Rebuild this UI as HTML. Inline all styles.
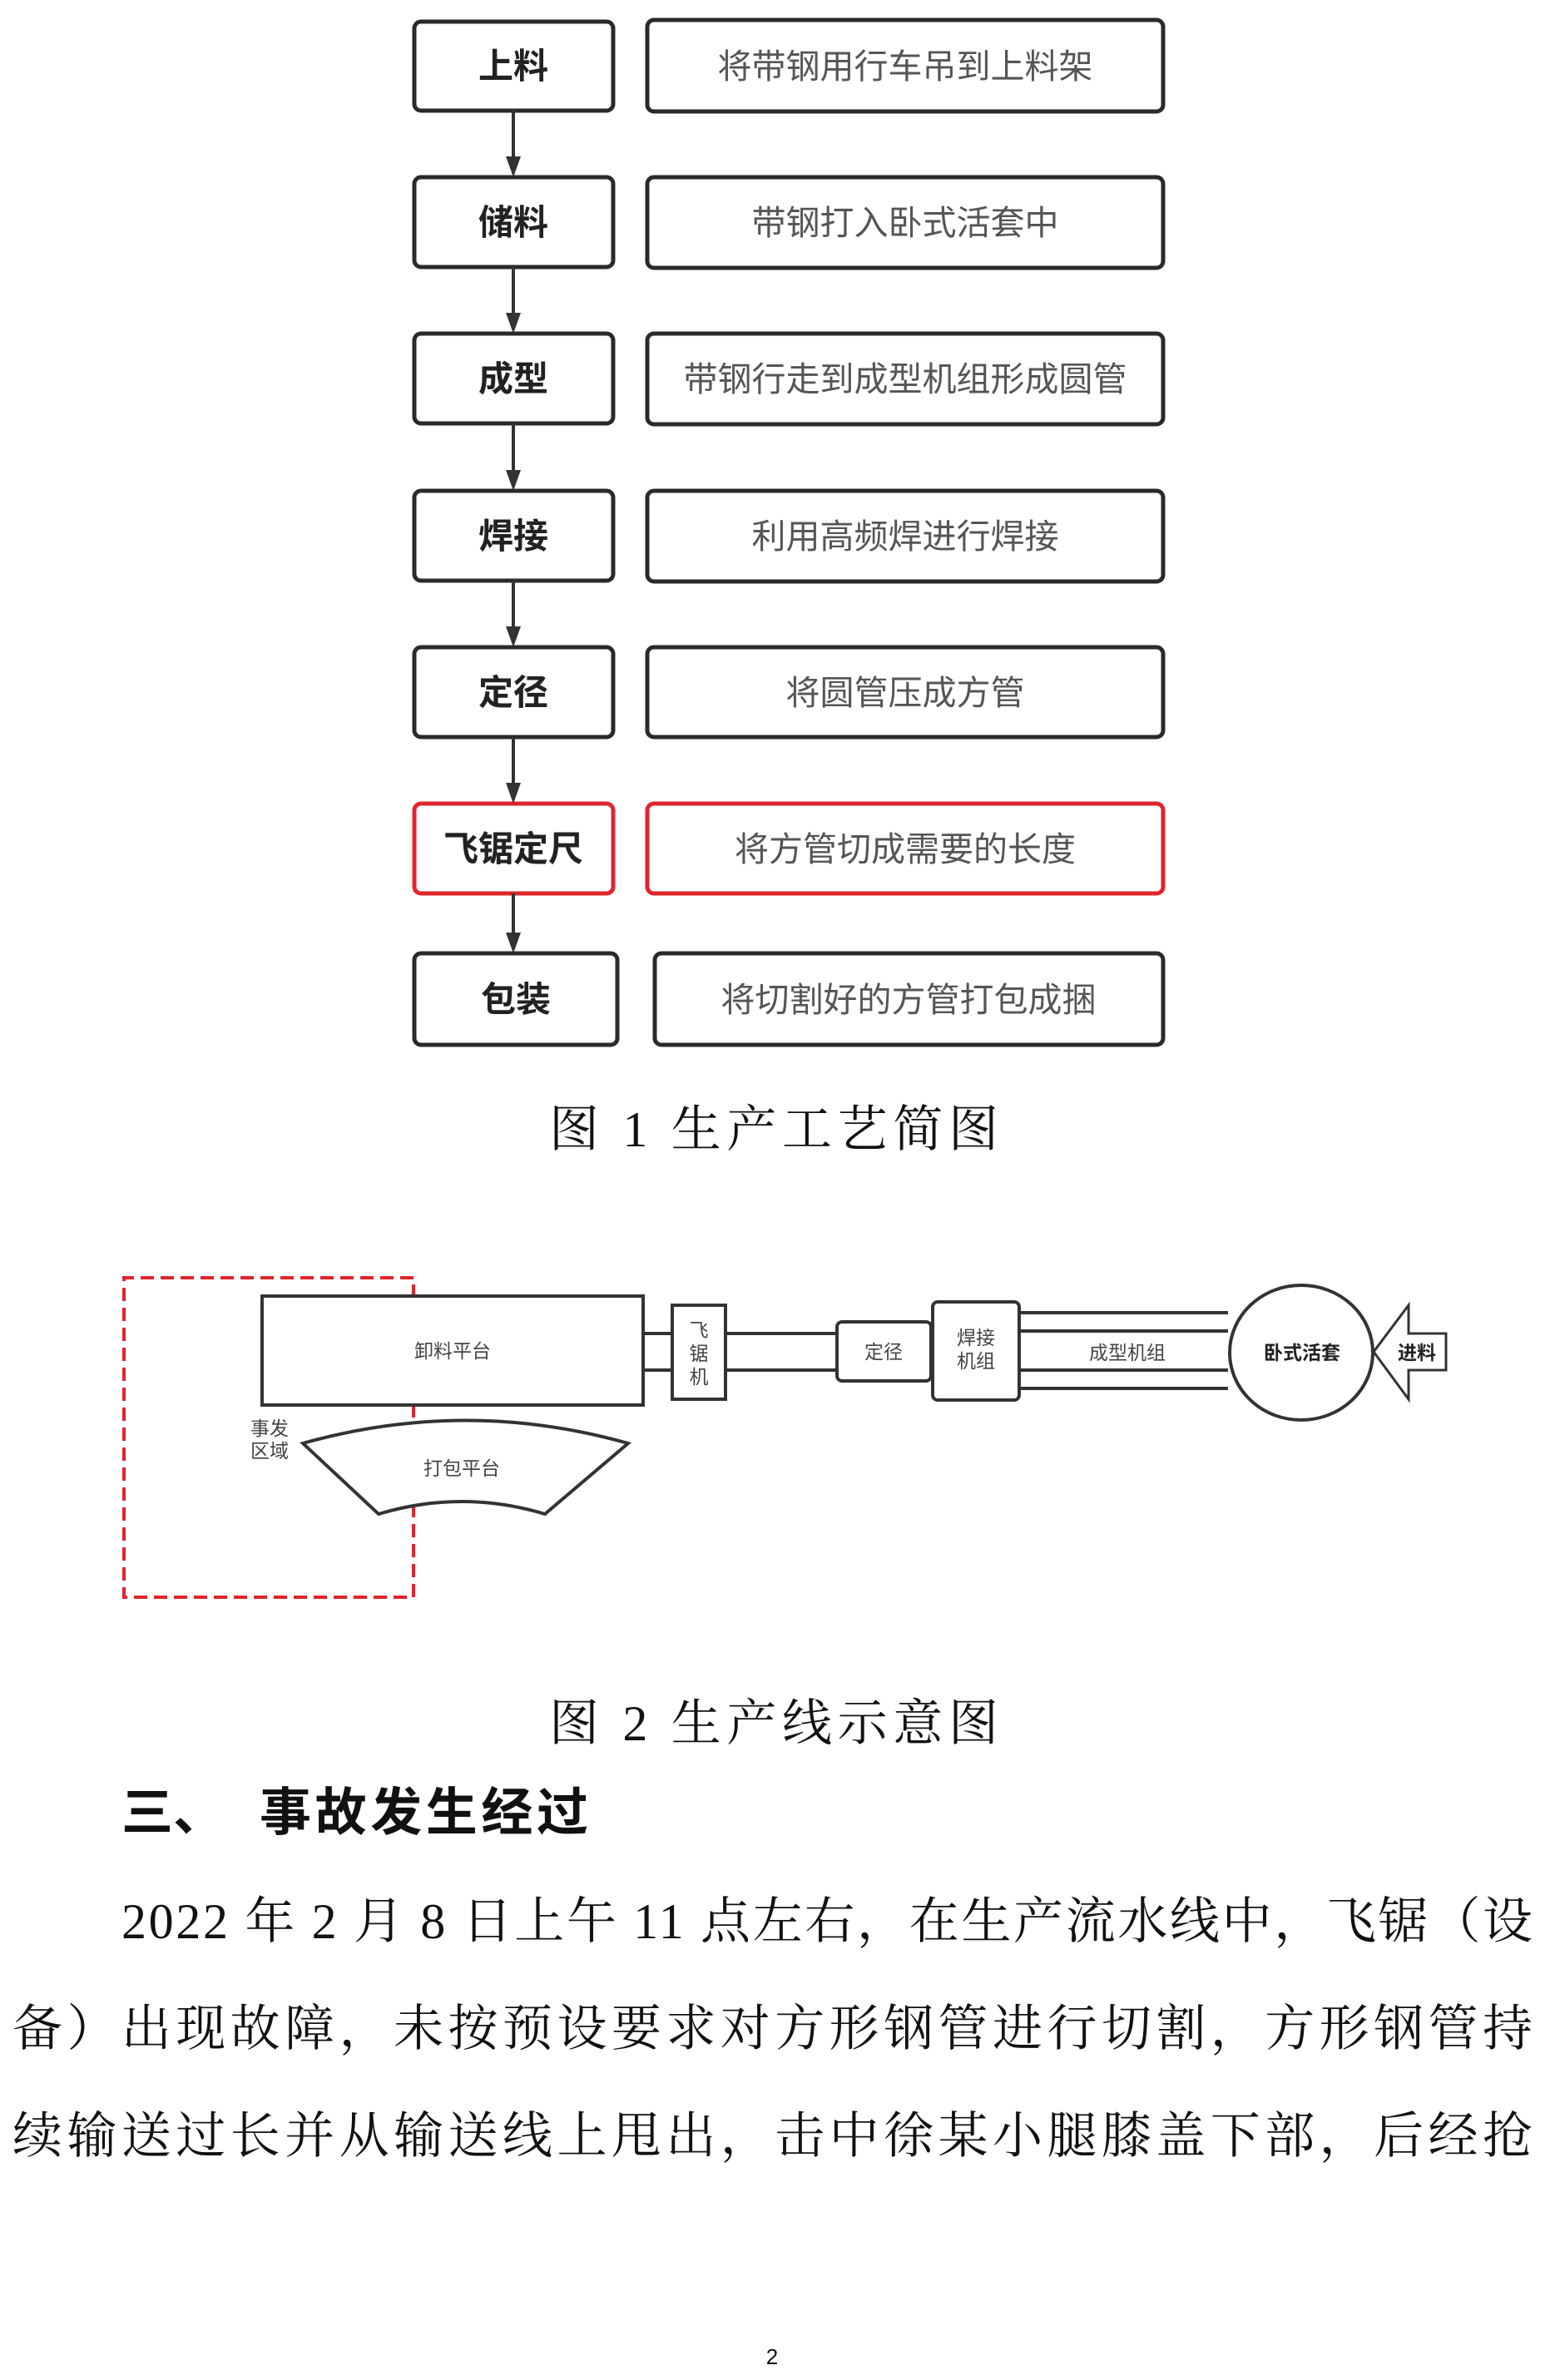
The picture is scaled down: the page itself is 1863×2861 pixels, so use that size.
<!DOCTYPE html>
<html><head><meta charset="utf-8"><style>
html,body{margin:0;padding:0;background:#fff;}
svg{display:block;}
text{font-family:"Liberation Sans","Noto Sans CJK SC",sans-serif;}
.serif{font-family:"Liberation Serif","Noto Serif CJK SC",serif;}
</style></head><body>
<svg width="1863" height="2861" viewBox="0 0 1863 2861" xmlns="http://www.w3.org/2000/svg">
<g fill="#fff" stroke="#2a2a2a" stroke-width="5">
<rect x="498" y="26" width="239" height="107" rx="8"/>
<rect x="778" y="24" width="620" height="110" rx="8"/>
<rect x="498" y="213" width="239" height="108" rx="8"/>
<rect x="778" y="213" width="620" height="109" rx="8"/>
<rect x="498" y="401" width="239" height="108" rx="8"/>
<rect x="778" y="401" width="620" height="109" rx="8"/>
<rect x="498" y="590" width="239" height="108" rx="8"/>
<rect x="778" y="590" width="620" height="109" rx="8"/>
<rect x="498" y="778" width="239" height="108" rx="8"/>
<rect x="778" y="778" width="620" height="108" rx="8"/>
<rect x="498" y="966" width="239" height="108" rx="8" stroke="#e0242c"/>
<rect x="778" y="966" width="620" height="108" rx="8" stroke="#e0242c"/>
<rect x="498" y="1146" width="244" height="110" rx="8"/>
<rect x="787" y="1146" width="611" height="110" rx="8"/>
</g>
<g stroke="#333" stroke-width="4">
<line x1="617" y1="133" x2="617" y2="190"/><line x1="617" y1="321" x2="617" y2="378"/>
<line x1="617" y1="509" x2="617" y2="567"/><line x1="617" y1="698" x2="617" y2="755"/>
<line x1="617" y1="886" x2="617" y2="943"/><line x1="617" y1="1074" x2="617" y2="1123"/>
</g>
<g fill="#333">
<path d="M608,188 L626,188 L617,213Z"/><path d="M608,376 L626,376 L617,401Z"/>
<path d="M608,565 L626,565 L617,590Z"/><path d="M608,753 L626,753 L617,778Z"/>
<path d="M608,941 L626,941 L617,966Z"/><path d="M608,1121 L626,1121 L617,1146Z"/>
</g>
<g font-size="42" font-weight="bold" fill="#222" text-anchor="middle">
<text x="617" y="94">上料</text><text x="617" y="282">储料</text><text x="617" y="470">成型</text>
<text x="617" y="659">焊接</text><text x="617" y="847">定径</text><text x="617" y="1035">飞锯定尺</text>
<text x="620" y="1216">包装</text>
</g>
<g font-size="41" fill="#555" text-anchor="middle">
<text x="1088" y="94">将带钢用行车吊到上料架</text><text x="1088" y="282">带钢打入卧式活套中</text>
<text x="1088" y="470">带钢行走到成型机组形成圆管</text><text x="1088" y="659">利用高频焊进行焊接</text>
<text x="1088" y="847">将圆管压成方管</text><text x="1088" y="1035">将方管切成需要的长度</text>
<text x="1092" y="1216">将切割好的方管打包成捆</text>
</g>
<text class="serif" x="660" y="1378" font-size="60" fill="#111" textLength="540">图 1 生产工艺简图</text>

<path d="M497,1536 L149,1536 L149,1920 L497,1920 L497,1536" fill="none" stroke="#e0242c" stroke-width="4" stroke-dasharray="16,8"/>
<g fill="none" stroke="#333" stroke-width="4">
<rect x="315" y="1558" width="458" height="131" fill="#fff"/>
<line x1="773" y1="1603" x2="1006" y2="1603"/><line x1="773" y1="1647" x2="1006" y2="1647"/>
<rect x="808" y="1569" width="64" height="113" fill="#fff"/>
<rect x="1006" y="1589" width="113" height="71" rx="6" fill="#fff"/>
<rect x="1121" y="1565" width="104" height="118" rx="6" fill="#fff"/>
<line x1="1225" y1="1578" x2="1476" y2="1578"/><line x1="1225" y1="1600" x2="1476" y2="1600"/>
<line x1="1225" y1="1647" x2="1476" y2="1647"/><line x1="1225" y1="1669" x2="1476" y2="1669"/>
<ellipse cx="1564" cy="1626" rx="86" ry="81" fill="#fff"/>
<path d="M1651,1625 L1693,1569 L1693,1603 L1738,1603 L1738,1647 L1693,1647 L1693,1682 Z" fill="#fff" stroke-width="3"/>
<path d="M364,1735 Q560,1680 755,1735 L655,1820 Q555,1790 455,1820 Z" fill="#fff"/>
</g>
<g font-size="23" fill="#444" text-anchor="middle">
<text x="544" y="1632">卸料平台</text>
<text x="840" y="1607">飞</text><text x="840" y="1635">锯</text><text x="840" y="1663">机</text>
<text x="1062" y="1633">定径</text>
<text x="1173" y="1616">焊接</text><text x="1173" y="1644">机组</text>
<text x="1355" y="1634">成型机组</text>
<text x="1565" y="1634" font-weight="bold" fill="#222">卧式活套</text>
<text x="1703" y="1634" font-weight="bold" fill="#222">进料</text>
<text x="555" y="1773">打包平台</text>
<text x="324" y="1725">事发</text><text x="324" y="1752">区域</text>
</g>
<text class="serif" x="660" y="2092" font-size="60" fill="#111" textLength="540">图 2 生产线示意图</text>
<text x="146" y="2200" font-size="62" font-weight="bold" fill="#111">三、</text>
<text x="312" y="2200" font-size="62" font-weight="bold" fill="#111" textLength="395">事故发生经过</text>
<g font-size="60" fill="#111">
<text class="serif" x="146" y="2330" textLength="1696" lengthAdjust="spacing">2022 年 2 月 8 日上午 11 点左右，在生产流水线中，飞锯（设</text>
<text class="serif" x="15" y="2459" textLength="1827" lengthAdjust="spacing">备）出现故障，未按预设要求对方形钢管进行切割，方形钢管持</text>
<text class="serif" x="15" y="2588" textLength="1827" lengthAdjust="spacing">续输送过长并从输送线上甩出，击中徐某小腿膝盖下部，后经抢</text>
</g>
<text x="928" y="2842" font-size="26" fill="#111" text-anchor="middle">2</text>
</svg>
</body></html>
